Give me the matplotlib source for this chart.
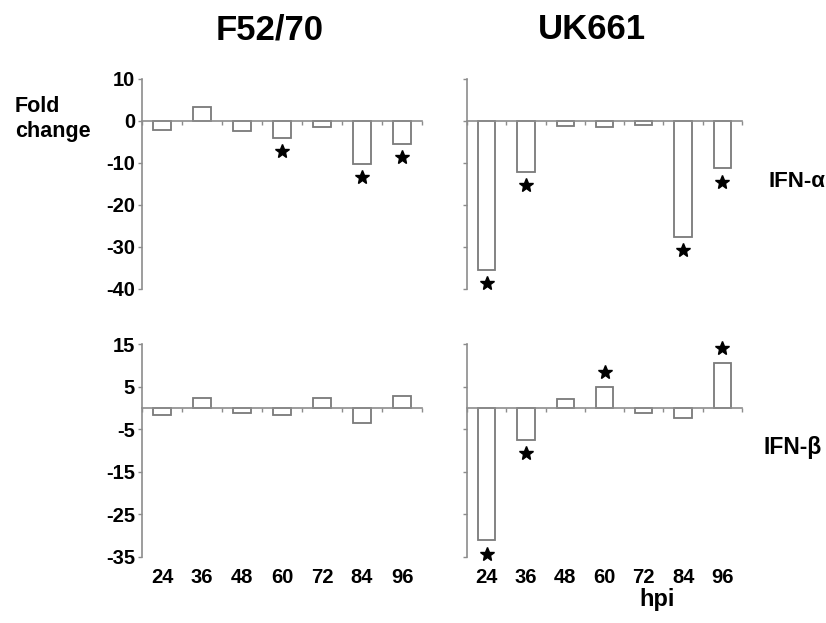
import matplotlib.pyplot as plt
import matplotlib.transforms as mtransforms
import numpy as np

plt.rcParams['font.family'] = ['Liberation Sans', 'DejaVu Sans']
plt.rcParams['font.weight'] = 'bold'

hpi = ['24', '36', '48', '60', '72', '84', '96']

# fold change values
f52_alpha = [-2.2, 3.3, -2.3, -4.1, -1.4, -10.2, -5.5]
uk_alpha = [-35.5, -12.2, -1.3, -1.4, -1.0, -27.5, -11.3]
f52_beta = [-1.7, 2.3, -1.3, -1.7, 2.3, -3.6, 2.7]
uk_beta = [-31.1, -7.6, 2.2, 4.9, -1.1, -2.3, 10.6]

# significant points (index into hpi)
f52_alpha_sig = [3, 5, 6]
uk_alpha_sig = [0, 1, 5, 6]
f52_beta_sig = []
uk_beta_sig = [0, 1, 3, 6]

alpha_ticks = [10, 0, -10, -20, -30, -40]
beta_ticks = [15, 5, -5, -15, -25, -35]

W, H = 826, 623
fig = plt.figure(figsize=(W / 100, H / 100), dpi=100)

def box(x0, x1, y0, y1):
    return [x0 / W, 1 - y1 / H, (x1 - x0) / W, (y1 - y0) / H]

grey = '#8c8c8c'

def panel(rect, vals, sig, yticks, ylim, show_ylab, show_xlab):
    ax = fig.add_axes(rect)
    x = np.arange(len(vals))
    ax.bar(x, vals, width=0.44, color='white', edgecolor='#7a7a7a', linewidth=1.3, zorder=2)
    ax.set_xlim(-0.5, len(vals) - 0.5)
    ax.set_ylim(*ylim)
    for s in ['top', 'right']:
        ax.spines[s].set_visible(False)
    ax.spines['left'].set_color(grey)
    ax.spines['left'].set_linewidth(1.2)
    ax.spines['bottom'].set_position(('data', 0))
    ax.spines['bottom'].set_color(grey)
    ax.spines['bottom'].set_linewidth(1.2)
    ax.spines['bottom'].set_zorder(3)
    ax.set_xticks(np.arange(-0.5, len(vals), 1.0))
    ax.set_xticklabels([])
    ax.tick_params(axis='x', direction='out', length=3, width=1, color=grey)
    ax.set_yticks(yticks)
    ax.tick_params(axis='y', direction='out', length=3, width=1, color=grey,
                   labelsize=14.5, pad=2)
    if show_ylab:
        ax.set_yticklabels([str(t) for t in yticks], fontweight='bold')
    else:
        ax.set_yticklabels([])
    if show_xlab:
        sec = ax.secondary_xaxis(0.0)
        sec.set_xticks(x)
        sec.set_xticklabels(hpi, fontweight='bold', fontsize=14.5)
        sec.tick_params(length=0, pad=8)
        sec.spines['bottom'].set_visible(False)
    below = mtransforms.offset_copy(ax.transData, fig=fig, y=-9.5, units='points')
    above = mtransforms.offset_copy(ax.transData, fig=fig, y=10.5, units='points')
    for i in sig:
        tr = below if vals[i] < 0 else above
        ax.plot(x[i], vals[i], marker='*', color='black', markersize=10,
                transform=tr, clip_on=False, zorder=4)
    return ax

panel(box(142, 422, 79, 289), f52_alpha, f52_alpha_sig, alpha_ticks, (-40, 10), True, False)
panel(box(467, 742, 79, 289), uk_alpha, uk_alpha_sig, alpha_ticks, (-40, 10), False, False)
panel(box(142, 422, 344, 557), f52_beta, f52_beta_sig, beta_ticks, (-35, 15), True, True)
panel(box(467, 742, 344, 557), uk_beta, uk_beta_sig, beta_ticks, (-35, 15), False, True)

fig.text(0.327, 0.952, 'F52/70', fontsize=25, fontweight='bold', ha='center', va='center')
fig.text(0.717, 0.952, 'UK661', fontsize=25, fontweight='bold', ha='center', va='center')
fig.text(0.018, 0.809, 'Fold\nchange', fontsize=15.5, fontweight='bold', ha='left', va='center',
         linespacing=1.3)
fig.text(0.93, 0.708, 'IFN-α', fontsize=16, fontweight='bold', ha='left', va='center')
fig.text(0.924, 0.281, 'IFN-β', fontsize=16.5, fontweight='bold', ha='left', va='center')
fig.text(0.795, 0.038, 'hpi', fontsize=17, fontweight='bold', ha='center', va='center')

fig.savefig('out.png', dpi=100, facecolor='white')
